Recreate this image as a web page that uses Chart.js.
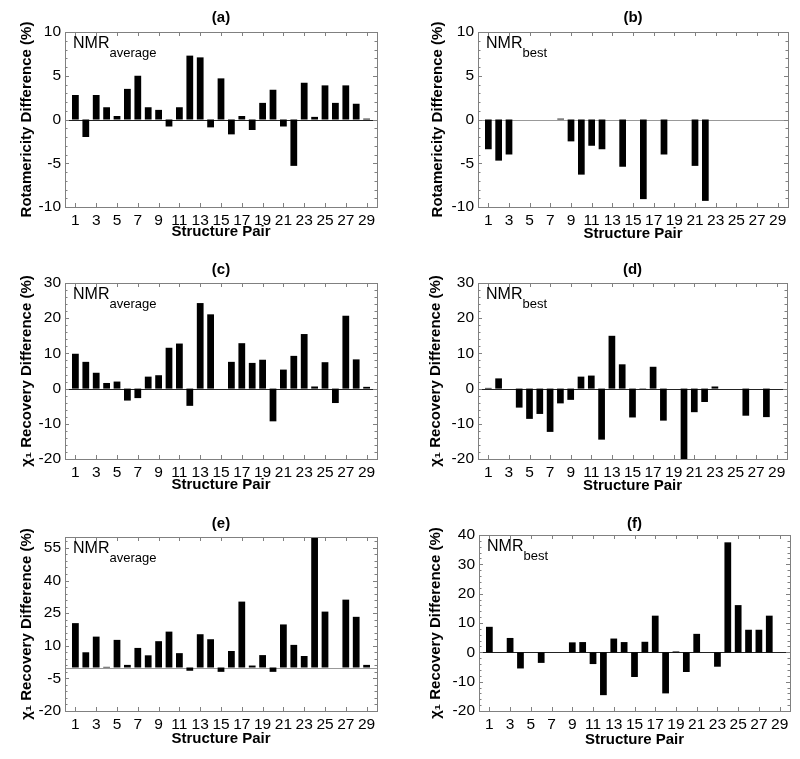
<!DOCTYPE html>
<html>
<head>
<meta charset="utf-8">
<script src="https://cdn.jsdelivr.net/npm/chart.js@4.4.1/dist/chart.umd.min.js"></script>
<style>
  body { margin: 0; background: #fff; }
  #wrap { position: relative; width: 800px; height: 759px; }
  #wrap canvas { position: absolute; }
</style>
</head>
<body>
<div id="wrap">
  <canvas id="panelA" width="400" height="253" style="left:0;top:0"></canvas>
  <canvas id="panelB" width="400" height="253" style="left:400px;top:0"></canvas>
  <canvas id="panelC" width="400" height="253" style="left:0;top:253px"></canvas>
  <canvas id="panelD" width="400" height="253" style="left:400px;top:253px"></canvas>
  <canvas id="panelE" width="400" height="253" style="left:0;top:506px"></canvas>
  <canvas id="panelF" width="400" height="253" style="left:400px;top:506px"></canvas>
</div>
<script>
// structure pairs 1..29
const pairs = [1, 2, 3, 4, 5, 6, 7, 8, 9, 10, 11, 12, 13, 14, 15, 16, 17, 18, 19, 20, 21, 22, 23, 24, 25, 26, 27, 28, 29];
const xTickLabels = [1, 3, 5, 7, 9, 11, 13, 15, 17, 19, 21, 23, 25, 27, 29];

// (a) rotamericity difference, NMR average
const rotamericityAverage = [2.8, -2.0, 2.8, 1.4, 0.4, 3.5, 5.0, 1.4, 1.1, -0.8, 1.4, 7.3, 7.1, -0.9, 4.7,
  -1.7, 0.4, -1.2, 1.9, 3.4, -0.8, -5.3, 4.2, 0.3, 3.9, 1.9, 3.9, 1.8, 0.1];
// (b) rotamericity difference, NMR best
const rotamericityBest = [-3.4, -4.7, -4.0, 0, 0, 0, 0, 0.1, -2.5, -6.3, -3.0, -3.4, 0, -5.4, 0,
  -9.1, 0, -4.0, 0, 0, -5.3, -9.3, 0, 0, 0, 0, 0, 0, 0];
// (c) chi1 recovery difference, NMR average
const recoveryAverageC = [9.9, 7.6, 4.5, 1.6, 2.0, -3.4, -2.7, 3.4, 3.8, 11.6, 12.8, -4.9, 24.3, 21.1, 0,
  7.6, 12.9, 7.3, 8.2, -9.3, 5.4, 9.3, 15.5, 0.6, 7.5, -4.1, 20.7, 8.3, 0.5];
// (d) chi1 recovery difference, NMR best
const recoveryBestD = [0.2, 2.9, 0, -5.4, -8.6, -7.2, -12.3, -4.2, -3.2, 3.4, 3.7, -14.5, 15.0, 6.9, -8.2,
  -0.1, 6.2, -9.1, 0, -20, -6.7, -3.8, 0.6, 0, 0, -7.7, 0, -8.1, 0];
// (e) chi1 recovery difference, NMR average
const recoveryAverageE = [20.4, 7.0, 14.2, 0.3, 12.7, 1.2, 9.0, 5.6, 12.1, 16.5, 6.6, -1.5, 15.3, 13.0, -2.0,
  7.6, 30.3, 0.9, 5.7, -2.0, 19.8, 10.4, 5.3, 59.5, 25.7, 0, 31.2, 23.3, 1.2];
// (f) chi1 recovery difference, NMR best
const recoveryBestF = [8.7, 0, 4.9, -5.5, 0, -3.6, 0, 0, 3.4, 3.5, -4.0, -14.6, 4.7, 3.5, -8.4,
  3.6, 12.5, -14.0, 0.3, -6.7, 6.3, 0, -4.9, 37.5, 16.1, 7.7, 7.7, 12.5, 0];

const yTicksRot = [-10, -5, 0, 5, 10];
const yTicksC = [-20, -10, 0, 10, 20, 30];
const yTicksE = [-20, -5, 10, 25, 40, 55];
const yTicksF = [-20, -10, 0, 10, 20, 30, 40];

const FONT = '"Liberation Sans", Arial, Helvetica, sans-serif';
const FRAME = '#808080';

const panels = [
  { id: 'panelA', tag: '(a)', values: rotamericityAverage, yTicks: yTicksRot, yMax: 10, minor: 1,
    yTitle: 'Rotamericity Difference (%)', sub: 'average', zero: '#222',
    box: { left: 65, right: 377, top: 32, bottom: 207, titleY: 17.5, xTitleY: 232, yTitleX: 27 } },
  { id: 'panelB', tag: '(b)', values: rotamericityBest, yTicks: yTicksRot, yMax: 10, minor: 1,
    yTitle: 'Rotamericity Difference (%)', sub: 'best', zero: '#999',
    box: { left: 78, right: 388, top: 32, bottom: 207, titleY: 17.5, xTitleY: 234, yTitleX: 37.5 } },
  { id: 'panelC', tag: '(c)', values: recoveryAverageC, yTicks: yTicksC, yMax: 30, minor: 2,
    yTitle: 'χ₁ Recovery Difference (%)', sub: 'average', zero: '#222',
    box: { left: 65, right: 377, top: 30, bottom: 206, titleY: 16.5, xTitleY: 232, yTitleX: 27 } },
  { id: 'panelD', tag: '(d)', values: recoveryBestD, yTicks: yTicksC, yMax: 30, minor: 2,
    yTitle: 'χ₁ Recovery Difference (%)', sub: 'best', zero: '#222',
    box: { left: 78, right: 387, top: 30, bottom: 206, titleY: 16.5, xTitleY: 232.5, yTitleX: 35.5 } },
  { id: 'panelE', tag: '(e)', values: recoveryAverageE, yTicks: yTicksE, yMax: 60, minor: 3,
    yTitle: 'χ₁ Recovery Difference (%)', sub: 'average', zero: '#999',
    box: { left: 65, right: 377, top: 31, bottom: 205, titleY: 17.5, xTitleY: 233, yTitleX: 27 } },
  { id: 'panelF', tag: '(f)', values: recoveryBestF, yTicks: yTicksF, yMax: 40, minor: 2,
    yTitle: 'χ₁ Recovery Difference (%)', sub: 'best', zero: '#222',
    box: { left: 79, right: 390, top: 29, bottom: 205, titleY: 17.5, xTitleY: 234, yTitleX: 35.5 } }
];

// grey frame with inward ticks, zero line, NMR label
const framePlugin = {
  id: 'frame',
  beforeDatasetsDraw(chart, args, opts) {
    const { ctx, chartArea: a, scales: { y } } = chart;
    const y0 = Math.round(y.getPixelForValue(0)) + 0.5;
    ctx.save();
    ctx.strokeStyle = opts.zero;
    ctx.lineWidth = 1;
    ctx.beginPath();
    ctx.moveTo(a.left, y0);
    ctx.lineTo(a.right, y0);
    ctx.stroke();
    ctx.restore();
  },
  afterDraw(chart, args, opts) {
    const { ctx, chartArea: a, scales: { x, y } } = chart;
    ctx.save();
    ctx.strokeStyle = FRAME;
    ctx.lineWidth = 1;
    ctx.strokeRect(Math.round(a.left) + 0.5, Math.round(a.top) + 0.5,
      Math.round(a.right - a.left), Math.round(a.bottom - a.top));
    ctx.beginPath();
    xTickLabels.forEach(v => {
      const px = Math.round(x.getPixelForValue(v)) + 0.5;
      ctx.moveTo(px, a.bottom); ctx.lineTo(px, a.bottom - 4);
      ctx.moveTo(px, a.top); ctx.lineTo(px, a.top + 4);
    });
    for (let v = y.min; v <= y.max; v += opts.minor) {
      const py = Math.round(y.getPixelForValue(v)) + 0.5;
      const len = opts.yTicks.includes(v) ? 4 : 2.5;
      ctx.moveTo(a.left, py); ctx.lineTo(a.left + len, py);
      ctx.moveTo(a.right, py); ctx.lineTo(a.right - len, py);
    }
    ctx.stroke();

    ctx.fillStyle = '#000';
    ctx.textBaseline = 'alphabetic';
    ctx.font = '16px ' + FONT;
    const tx = a.left + 8, ty = a.top + 16;
    ctx.fillText('NMR', tx, ty);
    const w = ctx.measureText('NMR').width;
    ctx.font = '13px ' + FONT;
    ctx.fillText(opts.sub, tx + w, ty + 9);
    ctx.restore();
  }
};

function makeChart(p) {
  const b = p.box;
  const W = 400, H = 253;
  const padLeft = b.yTitleX - 13;
  const padBottom = H - b.xTitleY - 9;
  const yWidth = b.left - padLeft;
  const xHeight = H - padBottom - b.bottom;

  new Chart(document.getElementById(p.id), {
    type: 'bar',
    data: {
      datasets: [{
        data: pairs.map((v, i) => ({ x: v, y: p.values[i] })),
        backgroundColor: '#000',
        borderWidth: 0,
        barPercentage: 0.65,
        categoryPercentage: 1
      }]
    },
    options: {
      responsive: false,
      animation: false,
      events: [],
      layout: { padding: { left: padLeft, right: W - b.right, top: 0, bottom: padBottom } },
      plugins: {
        legend: { display: false },
        tooltip: { enabled: false },
        title: {
          display: true, text: p.tag, fullSize: false, color: '#000',
          font: { family: FONT, size: 15, weight: 'bold' },
          padding: { top: b.titleY - 9, bottom: b.top - b.titleY - 9 }
        },
        frame: { zero: p.zero, minor: p.minor, yTicks: p.yTicks, sub: p.sub }
      },
      scales: {
        x: {
          type: 'linear', min: 0, max: 30, offset: false,
          grid: { display: false, drawTicks: false },
          border: { display: false },
          afterBuildTicks: s => { s.ticks = xTickLabels.map(v => ({ value: v })); },
          afterFit: s => { s.height = xHeight; },
          ticks: { color: '#000', font: { family: FONT, size: 15.5 }, padding: 4,
                   maxRotation: 0, autoSkip: false, callback: v => String(v) },
          title: { display: true, text: 'Structure Pair', color: '#000',
                   font: { family: FONT, size: 15, weight: 'bold' }, padding: 0 }
        },
        y: {
          min: p.yTicks[0], max: p.yMax,
          grid: { display: false, drawTicks: false },
          border: { display: false },
          afterBuildTicks: s => { s.ticks = p.yTicks.map(v => ({ value: v })); },
          afterFit: s => { s.width = yWidth; },
          ticks: { color: '#000', font: { family: FONT, size: 15.5 }, padding: 4,
                   callback: v => String(v) },
          title: { display: true, text: p.yTitle, color: '#000',
                   font: { family: FONT, size: 15, weight: 'bold' }, padding: { top: 4, bottom: 4 } }
        }
      }
    },
    plugins: [framePlugin]
  });
}

panels.forEach(makeChart);
</script>
</body>
</html>
